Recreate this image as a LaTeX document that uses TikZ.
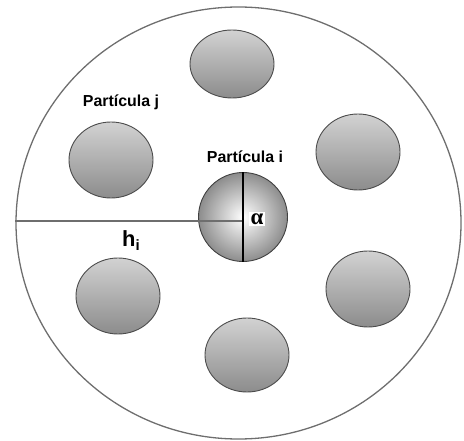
\documentclass[tikz,border=0pt]{standalone}
\usepackage{fontspec}
\setmainfont{Liberation Sans}
\newfontfamily\greekserif{Liberation Serif}
\usetikzlibrary{shapes.geometric}
\definecolor{rimgray}{HTML}{6E6E6E}
\definecolor{ptop}{HTML}{D2D2D2}
\definecolor{pbot}{HTML}{8C8C8C}
\tikzset{
  particle/.style={ellipse, draw=black!70, line width=0.9bp, inner sep=0pt,
    minimum width=84bp, minimum height=76bp, top color=ptop, bottom color=pbot},
  lab/.style={font=\bfseries\fontsize{16}{18}\selectfont, inner sep=0pt}
}
\begin{document}
\begin{tikzpicture}[x=1bp,y=-1bp]
\useasboundingbox (0,0) rectangle (464,441);
\node[ellipse, draw=rimgray, line width=1.3bp, inner sep=0pt,
  minimum width=445bp, minimum height=432bp] (big) at (238.5,223) {};
\node[particle, minimum height=68bp] (p1) at (232,64) {};
\node[particle] (p2) at (111,160) {};
\node[particle] (p3) at (358,152) {};
\node[particle] (p4) at (118,296) {};
\node[particle] (p5) at (368,289) {};
\node[particle, minimum height=74bp] (p6) at (247,355) {};
\node[circle, draw=black!75, line width=0.9bp, inner sep=0pt, minimum size=89bp,
  inner color=white, outer color=black!45] (ci) at (243,217) {};
\draw[rimgray, line width=2.2bp] (big.west |- 0,221) coordinate (hl) -- (hl -| ci.center);
\draw[black, line width=2.5bp] (ci.north) -- (ci.south);
\node[fill=white, inner sep=1.5bp, font=\greekserif\bfseries\fontsize{23}{23}\selectfont] (al) at (257,219) {α};
\node[lab] (lj) at (121,102) {Partícula j};
\node[lab] (li) at (245,157) {Partícula i};
\node[inner sep=0pt, font=\bfseries\fontsize{22}{22}\selectfont] (hi) at (131,241) {h\raisebox{-4bp}{\fontsize{15}{15}\selectfont i}};
\end{tikzpicture}
\end{document}
